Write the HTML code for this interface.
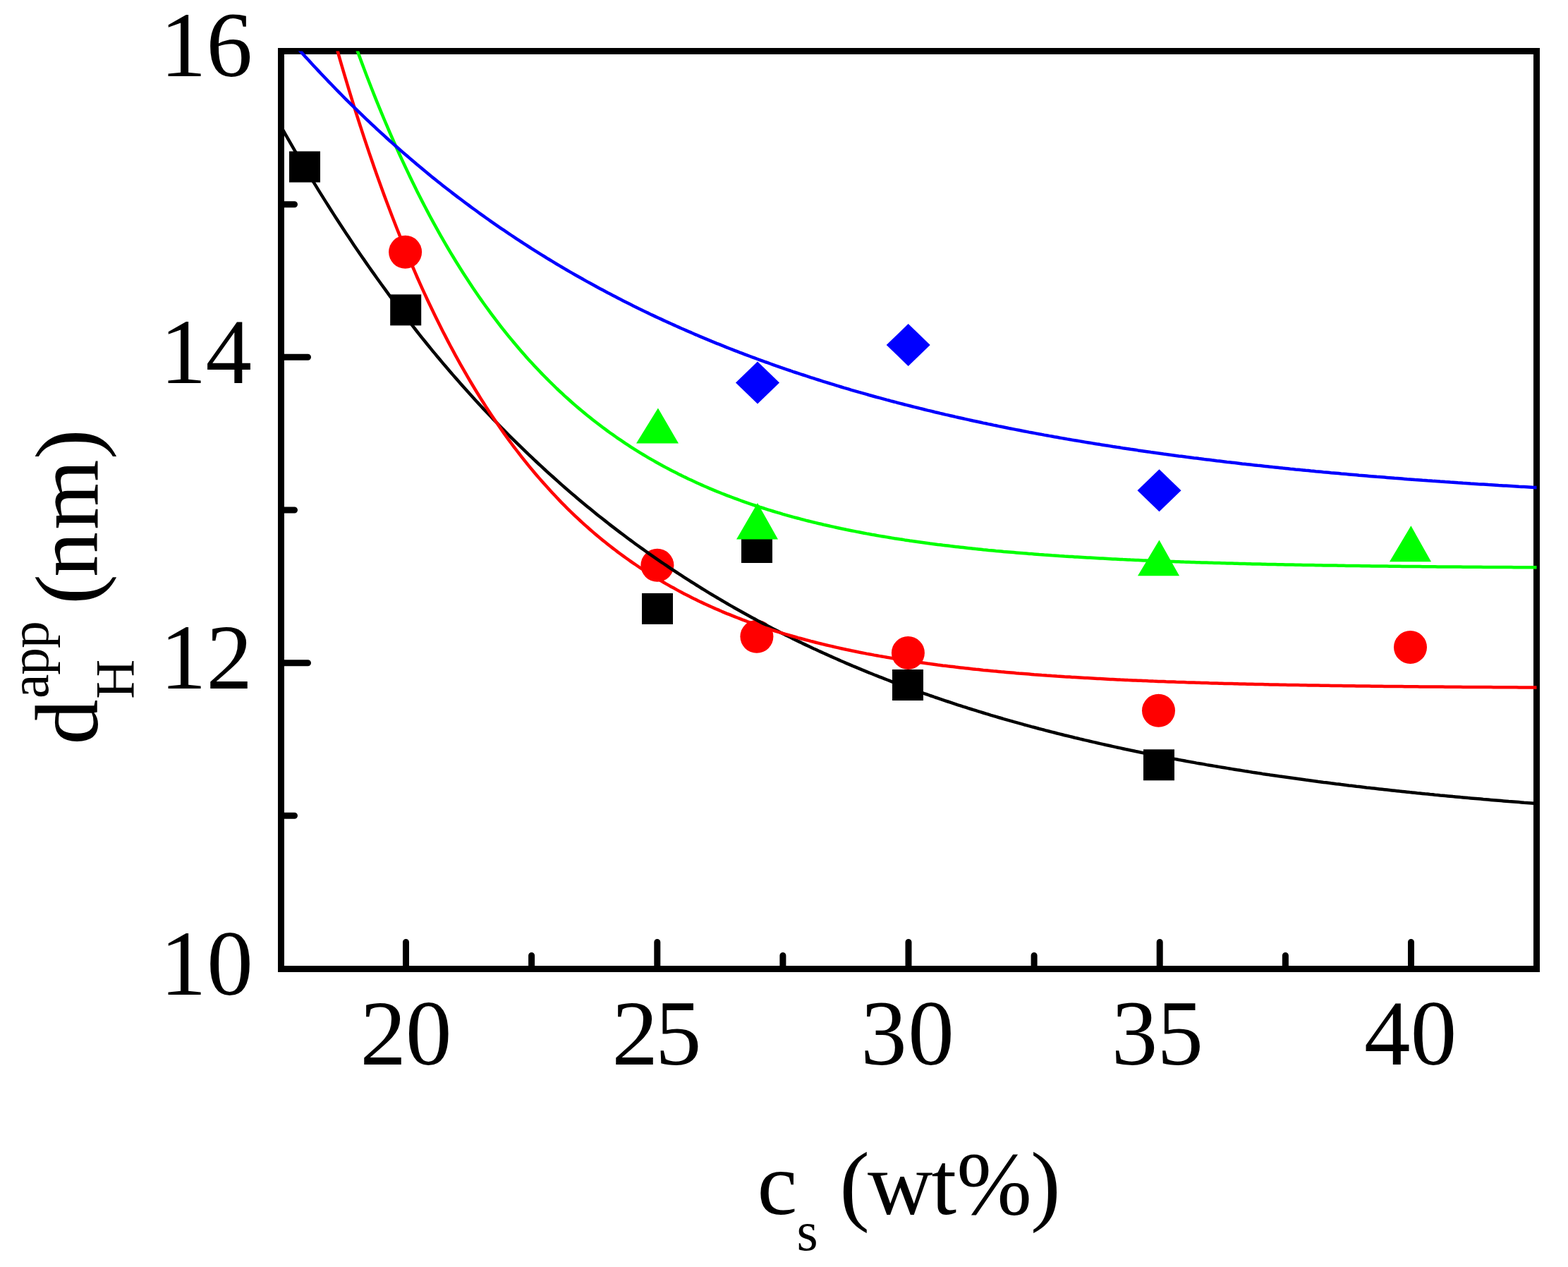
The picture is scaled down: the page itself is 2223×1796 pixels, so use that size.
<!DOCTYPE html><html><head><meta charset="utf-8"><title>d_H^app vs c_s</title><style>html,body{margin:0;padding:0;background:#fff;overflow:hidden;}svg{display:block;}</style></head><body>
<svg width="2223" height="1796" viewBox="0 0 2223 1796">
<rect x="0" y="0" width="2223" height="1796" fill="#fff"/>
<defs><clipPath id="pa"><rect x="398.5" y="72.5" width="1780.0" height="1301.0"/></clipPath></defs>
<path d="M575.5 1373.5V1335.5M931.8 1373.5V1335.5M1288.0 1373.5V1335.5M1644.2 1373.5V1335.5M2000.5 1373.5V1335.5M753.6 1373.5V1354.5M1109.9 1373.5V1354.5M1466.1 1373.5V1354.5M1822.4 1373.5V1354.5M398.5 506.3H436.5M398.5 939.7H436.5M398.5 289.7H417.5M398.5 723.0H417.5M398.5 1156.3H417.5" stroke="#000" stroke-width="9" stroke-linecap="round" fill="none"/>
<rect x="398.5" y="72.5" width="1780.0" height="1301.0" fill="none" stroke="#000" stroke-width="9"/>
<rect x="410.0" y="214.5" width="44" height="44" fill="#000"/><rect x="553.2" y="417.4" width="44" height="44" fill="#000"/><rect x="910.0" y="840.9" width="44" height="44" fill="#000"/><rect x="1051.0" y="754.0" width="44" height="44" fill="#000"/><rect x="1265.0" y="949.0" width="44" height="44" fill="#000"/><rect x="1621.0" y="1062.3" width="44" height="44" fill="#000"/><circle cx="574.6" cy="357.3" r="23.5" fill="#f00"/><circle cx="931.9" cy="801.3" r="23.5" fill="#f00"/><circle cx="1072.9" cy="902.3" r="23.5" fill="#f00"/><circle cx="1287.4" cy="925.5" r="23.5" fill="#f00"/><circle cx="1642.5" cy="1007.3" r="23.5" fill="#f00"/><circle cx="1999.5" cy="917.5" r="23.5" fill="#f00"/><polygon points="932.9,578.5 962,628.6 902,628.6" fill="#0f0"/><polygon points="1074,713 1103,764.6 1044,764.6" fill="#0f0"/><polygon points="1643.5,765.6 1672,816.3 1613,816.3" fill="#0f0"/><polygon points="2000.4,745.3 2029,796.3 1970,796.3" fill="#0f0"/><polygon points="1074,512.5 1105.0,542.5 1074,572.5 1043.0,542.5" fill="#00f"/><polygon points="1287.7,459.0 1318.7,489 1287.7,519.0 1256.7,489" fill="#00f"/><polygon points="1643.5,665.2 1674.5,695.2 1643.5,725.2 1612.5,695.2" fill="#00f"/>
<g clip-path="url(#pa)" fill="none" stroke-width="4.5" stroke-linejoin="round" stroke-linecap="round">
<polyline points="390.2,164.6 393.8,171.1 397.4,177.5 401.0,183.9 404.6,190.3 408.2,196.6 411.8,202.9 415.4,209.1 419.0,215.3 422.6,221.4 426.2,227.6 429.8,233.6 433.4,239.7 437.0,245.7 440.6,251.6 444.2,257.6 447.8,263.4 451.4,269.3 455.0,275.1 458.6,280.9 462.2,286.6 465.8,292.3 469.4,298.0 473.0,303.6 476.6,309.2 480.2,314.8 483.8,320.3 487.4,325.8 491.0,331.2 494.6,336.6 498.2,342.0 501.8,347.4 505.4,352.7 509.0,358.0 512.6,363.2 516.2,368.4 519.8,373.6 523.4,378.7 527.0,383.9 530.6,388.9 534.2,394.0 537.8,399.0 541.4,404.0 545.0,408.9 548.6,413.9 552.2,418.8 555.8,423.6 559.4,428.4 563.0,433.2 566.6,438.0 570.2,442.7 573.8,447.5 577.4,452.1 581.0,456.8 584.6,461.4 588.2,466.0 591.7,470.5 595.3,475.1 598.9,479.6 602.5,484.0 606.1,488.5 609.7,492.9 613.3,497.3 616.9,501.6 620.5,506.0 624.1,510.3 627.7,514.6 631.3,518.8 634.9,523.0 638.5,527.2 642.1,531.4 645.7,535.5 649.3,539.6 652.9,543.7 656.5,547.8 660.1,551.8 663.7,555.8 667.3,559.8 670.9,563.8 674.5,567.7 678.1,571.6 681.7,575.5 685.3,579.4 688.9,583.2 692.5,587.0 696.1,590.8 699.7,594.6 703.3,598.3 706.9,602.0 710.5,605.7 714.1,609.4 717.7,613.0 721.3,616.7 724.9,620.3 728.5,623.8 732.1,627.4 735.7,630.9 739.3,634.4 742.9,637.9 746.5,641.4 750.1,644.8 753.7,648.2 757.3,651.6 760.9,655.0 764.5,658.4 768.1,661.7 771.7,665.0 775.3,668.3 778.9,671.6 782.5,674.8 786.1,678.0 789.6,681.2 793.2,684.4 796.8,687.6 800.4,690.7 804.0,693.9 807.6,697.0 811.2,700.1 814.8,703.1 818.4,706.2 822.0,709.2 825.6,712.2 829.2,715.2 832.8,718.2 836.4,721.1 840.0,724.1 843.6,727.0 847.2,729.9 850.8,732.7 854.4,735.6 858.0,738.4 861.6,741.3 865.2,744.1 868.8,746.9 872.4,749.6 876.0,752.4 879.6,755.1 883.2,757.8 886.8,760.5 890.4,763.2 894.0,765.9 897.6,768.5 901.2,771.2 904.8,773.8 908.4,776.4 912.0,778.9 915.6,781.5 919.2,784.1 922.8,786.6 926.4,789.1 930.0,791.6 933.6,794.1 937.2,796.6 940.8,799.0 944.4,801.4 948.0,803.9 951.6,806.3 955.2,808.7 958.8,811.0 962.4,813.4 966.0,815.7 969.6,818.1 973.2,820.4 976.8,822.7 980.4,825.0 984.0,827.2 987.6,829.5 991.1,831.7 994.7,834.0 998.3,836.2 1001.9,838.4 1005.5,840.6 1009.1,842.7 1012.7,844.9 1016.3,847.0 1019.9,849.2 1023.5,851.3 1027.1,853.4 1030.7,855.5 1034.3,857.6 1037.9,859.6 1041.5,861.7 1045.1,863.7 1048.7,865.7 1052.3,867.8 1055.9,869.8 1059.5,871.7 1063.1,873.7 1066.7,875.7 1070.3,877.6 1073.9,879.6 1077.5,881.5 1081.1,883.4 1084.7,885.3 1088.3,887.2 1091.9,889.1 1095.5,890.9 1099.1,892.8 1102.7,894.6 1106.3,896.4 1109.9,898.2 1113.5,900.1 1117.1,901.8 1120.7,903.6 1124.3,905.4 1127.9,907.2 1131.5,908.9 1135.1,910.6 1138.7,912.4 1142.3,914.1 1145.9,915.8 1149.5,917.5 1153.1,919.2 1156.7,920.8 1160.3,922.5 1163.9,924.1 1167.5,925.8 1171.1,927.4 1174.7,929.0 1178.3,930.6 1181.9,932.2 1185.5,933.8 1189.0,935.4 1192.6,937.0 1196.2,938.5 1199.8,940.1 1203.4,941.6 1207.0,943.1 1210.6,944.7 1214.2,946.2 1217.8,947.7 1221.4,949.2 1225.0,950.6 1228.6,952.1 1232.2,953.6 1235.8,955.0 1239.4,956.5 1243.0,957.9 1246.6,959.3 1250.2,960.7 1253.8,962.1 1257.4,963.5 1261.0,964.9 1264.6,966.3 1268.2,967.7 1271.8,969.0 1275.4,970.4 1279.0,971.7 1282.6,973.1 1286.2,974.4 1289.8,975.7 1293.4,977.0 1297.0,978.3 1300.6,979.6 1304.2,980.9 1307.8,982.2 1311.4,983.5 1315.0,984.7 1318.6,986.0 1322.2,987.2 1325.8,988.5 1329.4,989.7 1333.0,990.9 1336.6,992.1 1340.2,993.3 1343.8,994.5 1347.4,995.7 1351.0,996.9 1354.6,998.1 1358.2,999.3 1361.8,1000.4 1365.4,1001.6 1369.0,1002.7 1372.6,1003.9 1376.2,1005.0 1379.8,1006.1 1383.4,1007.2 1387.0,1008.3 1390.5,1009.4 1394.1,1010.5 1397.7,1011.6 1401.3,1012.7 1404.9,1013.8 1408.5,1014.8 1412.1,1015.9 1415.7,1017.0 1419.3,1018.0 1422.9,1019.1 1426.5,1020.1 1430.1,1021.1 1433.7,1022.1 1437.3,1023.2 1440.9,1024.2 1444.5,1025.2 1448.1,1026.2 1451.7,1027.2 1455.3,1028.1 1458.9,1029.1 1462.5,1030.1 1466.1,1031.0 1469.7,1032.0 1473.3,1033.0 1476.9,1033.9 1480.5,1034.8 1484.1,1035.8 1487.7,1036.7 1491.3,1037.6 1494.9,1038.5 1498.5,1039.5 1502.1,1040.4 1505.7,1041.3 1509.3,1042.2 1512.9,1043.0 1516.5,1043.9 1520.1,1044.8 1523.7,1045.7 1527.3,1046.5 1530.9,1047.4 1534.5,1048.2 1538.1,1049.1 1541.7,1049.9 1545.3,1050.8 1548.9,1051.6 1552.5,1052.4 1556.1,1053.3 1559.7,1054.1 1563.3,1054.9 1566.9,1055.7 1570.5,1056.5 1574.1,1057.3 1577.7,1058.1 1581.3,1058.9 1584.9,1059.7 1588.4,1060.4 1592.0,1061.2 1595.6,1062.0 1599.2,1062.7 1602.8,1063.5 1606.4,1064.2 1610.0,1065.0 1613.6,1065.7 1617.2,1066.5 1620.8,1067.2 1624.4,1067.9 1628.0,1068.6 1631.6,1069.4 1635.2,1070.1 1638.8,1070.8 1642.4,1071.5 1646.0,1072.2 1649.6,1072.9 1653.2,1073.6 1656.8,1074.3 1660.4,1075.0 1664.0,1075.6 1667.6,1076.3 1671.2,1077.0 1674.8,1077.6 1678.4,1078.3 1682.0,1079.0 1685.6,1079.6 1689.2,1080.3 1692.8,1080.9 1696.4,1081.6 1700.0,1082.2 1703.6,1082.8 1707.2,1083.4 1710.8,1084.1 1714.4,1084.7 1718.0,1085.3 1721.6,1085.9 1725.2,1086.5 1728.8,1087.1 1732.4,1087.7 1736.0,1088.3 1739.6,1088.9 1743.2,1089.5 1746.8,1090.1 1750.4,1090.7 1754.0,1091.3 1757.6,1091.8 1761.2,1092.4 1764.8,1093.0 1768.4,1093.5 1772.0,1094.1 1775.6,1094.7 1779.2,1095.2 1782.8,1095.8 1786.4,1096.3 1789.9,1096.9 1793.5,1097.4 1797.1,1097.9 1800.7,1098.5 1804.3,1099.0 1807.9,1099.5 1811.5,1100.0 1815.1,1100.6 1818.7,1101.1 1822.3,1101.6 1825.9,1102.1 1829.5,1102.6 1833.1,1103.1 1836.7,1103.6 1840.3,1104.1 1843.9,1104.6 1847.5,1105.1 1851.1,1105.6 1854.7,1106.0 1858.3,1106.5 1861.9,1107.0 1865.5,1107.5 1869.1,1108.0 1872.7,1108.4 1876.3,1108.9 1879.9,1109.3 1883.5,1109.8 1887.1,1110.3 1890.7,1110.7 1894.3,1111.2 1897.9,1111.6 1901.5,1112.1 1905.1,1112.5 1908.7,1112.9 1912.3,1113.4 1915.9,1113.8 1919.5,1114.2 1923.1,1114.7 1926.7,1115.1 1930.3,1115.5 1933.9,1115.9 1937.5,1116.4 1941.1,1116.8 1944.7,1117.2 1948.3,1117.6 1951.9,1118.0 1955.5,1118.4 1959.1,1118.8 1962.7,1119.2 1966.3,1119.6 1969.9,1120.0 1973.5,1120.4 1977.1,1120.8 1980.7,1121.2 1984.3,1121.6 1987.8,1121.9 1991.4,1122.3 1995.0,1122.7 1998.6,1123.1 2002.2,1123.4 2005.8,1123.8 2009.4,1124.2 2013.0,1124.5 2016.6,1124.9 2020.2,1125.3 2023.8,1125.6 2027.4,1126.0 2031.0,1126.3 2034.6,1126.7 2038.2,1127.0 2041.8,1127.4 2045.4,1127.7 2049.0,1128.1 2052.6,1128.4 2056.2,1128.7 2059.8,1129.1 2063.4,1129.4 2067.0,1129.7 2070.6,1130.1 2074.2,1130.4 2077.8,1130.7 2081.4,1131.1 2085.0,1131.4 2088.6,1131.7 2092.2,1132.0 2095.8,1132.3 2099.4,1132.6 2103.0,1133.0 2106.6,1133.3 2110.2,1133.6 2113.8,1133.9 2117.4,1134.2 2121.0,1134.5 2124.6,1134.8 2128.2,1135.1 2131.8,1135.4 2135.4,1135.7 2139.0,1136.0 2142.6,1136.2 2146.2,1136.5 2149.8,1136.8 2153.4,1137.1 2157.0,1137.4 2160.6,1137.7 2164.2,1137.9 2167.8,1138.2 2171.4,1138.5 2175.0,1138.8 2178.6,1139.0 2182.2,1139.3 2185.8,1139.6" stroke="#000000"/>
<polyline points="458.6,-0.4 462.2,13.2 465.8,26.5 469.4,39.7 473.0,52.7 476.6,65.5 480.2,78.1 483.8,90.6 487.4,102.8 491.0,114.9 494.6,126.9 498.2,138.6 501.8,150.3 505.4,161.7 509.0,173.0 512.6,184.1 516.2,195.1 519.8,205.9 523.4,216.6 527.0,227.1 530.6,237.5 534.2,247.7 537.8,257.8 541.4,267.8 545.0,277.6 548.6,287.3 552.2,296.8 555.8,306.3 559.4,315.5 563.0,324.7 566.6,333.7 570.2,342.6 573.8,351.4 577.4,360.1 581.0,368.6 584.6,377.0 588.2,385.3 591.7,393.5 595.3,401.6 598.9,409.6 602.5,417.4 606.1,425.2 609.7,432.8 613.3,440.3 616.9,447.7 620.5,455.1 624.1,462.3 627.7,469.4 631.3,476.4 634.9,483.4 638.5,490.2 642.1,496.9 645.7,503.6 649.3,510.1 652.9,516.6 656.5,522.9 660.1,529.2 663.7,535.4 667.3,541.5 670.9,547.5 674.5,553.5 678.1,559.3 681.7,565.1 685.3,570.8 688.9,576.4 692.5,581.9 696.1,587.4 699.7,592.8 703.3,598.1 706.9,603.3 710.5,608.5 714.1,613.6 717.7,618.6 721.3,623.6 724.9,628.5 728.5,633.3 732.1,638.0 735.7,642.7 739.3,647.3 742.9,651.9 746.5,656.4 750.1,660.8 753.7,665.2 757.3,669.5 760.9,673.7 764.5,677.9 768.1,682.0 771.7,686.1 775.3,690.1 778.9,694.1 782.5,698.0 786.1,701.8 789.6,705.6 793.2,709.4 796.8,713.1 800.4,716.7 804.0,720.3 807.6,723.9 811.2,727.3 814.8,730.8 818.4,734.2 822.0,737.5 825.6,740.8 829.2,744.1 832.8,747.3 836.4,750.5 840.0,753.6 843.6,756.7 847.2,759.7 850.8,762.7 854.4,765.7 858.0,768.6 861.6,771.5 865.2,774.3 868.8,777.1 872.4,779.8 876.0,782.6 879.6,785.2 883.2,787.9 886.8,790.5 890.4,793.0 894.0,795.6 897.6,798.1 901.2,800.5 904.8,803.0 908.4,805.4 912.0,807.7 915.6,810.1 919.2,812.4 922.8,814.6 926.4,816.9 930.0,819.1 933.6,821.2 937.2,823.4 940.8,825.5 944.4,827.6 948.0,829.6 951.6,831.7 955.2,833.6 958.8,835.6 962.4,837.6 966.0,839.5 969.6,841.4 973.2,843.2 976.8,845.1 980.4,846.9 984.0,848.7 987.6,850.4 991.1,852.2 994.7,853.9 998.3,855.6 1001.9,857.2 1005.5,858.9 1009.1,860.5 1012.7,862.1 1016.3,863.7 1019.9,865.2 1023.5,866.8 1027.1,868.3 1030.7,869.8 1034.3,871.2 1037.9,872.7 1041.5,874.1 1045.1,875.5 1048.7,876.9 1052.3,878.3 1055.9,879.6 1059.5,881.0 1063.1,882.3 1066.7,883.6 1070.3,884.8 1073.9,886.1 1077.5,887.4 1081.1,888.6 1084.7,889.8 1088.3,891.0 1091.9,892.2 1095.5,893.3 1099.1,894.5 1102.7,895.6 1106.3,896.7 1109.9,897.8 1113.5,898.9 1117.1,899.9 1120.7,901.0 1124.3,902.0 1127.9,903.0 1131.5,904.1 1135.1,905.0 1138.7,906.0 1142.3,907.0 1145.9,907.9 1149.5,908.9 1153.1,909.8 1156.7,910.7 1160.3,911.6 1163.9,912.5 1167.5,913.4 1171.1,914.3 1174.7,915.1 1178.3,915.9 1181.9,916.8 1185.5,917.6 1189.0,918.4 1192.6,919.2 1196.2,920.0 1199.8,920.8 1203.4,921.5 1207.0,922.3 1210.6,923.0 1214.2,923.7 1217.8,924.5 1221.4,925.2 1225.0,925.9 1228.6,926.6 1232.2,927.2 1235.8,927.9 1239.4,928.6 1243.0,929.2 1246.6,929.9 1250.2,930.5 1253.8,931.1 1257.4,931.8 1261.0,932.4 1264.6,933.0 1268.2,933.6 1271.8,934.1 1275.4,934.7 1279.0,935.3 1282.6,935.9 1286.2,936.4 1289.8,937.0 1293.4,937.5 1297.0,938.0 1300.6,938.5 1304.2,939.1 1307.8,939.6 1311.4,940.1 1315.0,940.6 1318.6,941.0 1322.2,941.5 1325.8,942.0 1329.4,942.5 1333.0,942.9 1336.6,943.4 1340.2,943.8 1343.8,944.3 1347.4,944.7 1351.0,945.1 1354.6,945.6 1358.2,946.0 1361.8,946.4 1365.4,946.8 1369.0,947.2 1372.6,947.6 1376.2,948.0 1379.8,948.4 1383.4,948.8 1387.0,949.1 1390.5,949.5 1394.1,949.9 1397.7,950.2 1401.3,950.6 1404.9,950.9 1408.5,951.3 1412.1,951.6 1415.7,951.9 1419.3,952.3 1422.9,952.6 1426.5,952.9 1430.1,953.2 1433.7,953.5 1437.3,953.8 1440.9,954.2 1444.5,954.5 1448.1,954.7 1451.7,955.0 1455.3,955.3 1458.9,955.6 1462.5,955.9 1466.1,956.2 1469.7,956.4 1473.3,956.7 1476.9,957.0 1480.5,957.2 1484.1,957.5 1487.7,957.7 1491.3,958.0 1494.9,958.2 1498.5,958.5 1502.1,958.7 1505.7,958.9 1509.3,959.2 1512.9,959.4 1516.5,959.6 1520.1,959.9 1523.7,960.1 1527.3,960.3 1530.9,960.5 1534.5,960.7 1538.1,960.9 1541.7,961.1 1545.3,961.3 1548.9,961.5 1552.5,961.7 1556.1,961.9 1559.7,962.1 1563.3,962.3 1566.9,962.5 1570.5,962.7 1574.1,962.9 1577.7,963.0 1581.3,963.2 1584.9,963.4 1588.4,963.6 1592.0,963.7 1595.6,963.9 1599.2,964.1 1602.8,964.2 1606.4,964.4 1610.0,964.5 1613.6,964.7 1617.2,964.8 1620.8,965.0 1624.4,965.1 1628.0,965.3 1631.6,965.4 1635.2,965.6 1638.8,965.7 1642.4,965.9 1646.0,966.0 1649.6,966.1 1653.2,966.3 1656.8,966.4 1660.4,966.5 1664.0,966.6 1667.6,966.8 1671.2,966.9 1674.8,967.0 1678.4,967.1 1682.0,967.3 1685.6,967.4 1689.2,967.5 1692.8,967.6 1696.4,967.7 1700.0,967.8 1703.6,967.9 1707.2,968.0 1710.8,968.1 1714.4,968.3 1718.0,968.4 1721.6,968.5 1725.2,968.6 1728.8,968.7 1732.4,968.8 1736.0,968.9 1739.6,968.9 1743.2,969.0 1746.8,969.1 1750.4,969.2 1754.0,969.3 1757.6,969.4 1761.2,969.5 1764.8,969.6 1768.4,969.7 1772.0,969.7 1775.6,969.8 1779.2,969.9 1782.8,970.0 1786.4,970.1 1789.9,970.1 1793.5,970.2 1797.1,970.3 1800.7,970.4 1804.3,970.5 1807.9,970.5 1811.5,970.6 1815.1,970.7 1818.7,970.7 1822.3,970.8 1825.9,970.9 1829.5,970.9 1833.1,971.0 1836.7,971.1 1840.3,971.1 1843.9,971.2 1847.5,971.3 1851.1,971.3 1854.7,971.4 1858.3,971.4 1861.9,971.5 1865.5,971.6 1869.1,971.6 1872.7,971.7 1876.3,971.7 1879.9,971.8 1883.5,971.8 1887.1,971.9 1890.7,972.0 1894.3,972.0 1897.9,972.1 1901.5,972.1 1905.1,972.2 1908.7,972.2 1912.3,972.3 1915.9,972.3 1919.5,972.3 1923.1,972.4 1926.7,972.4 1930.3,972.5 1933.9,972.5 1937.5,972.6 1941.1,972.6 1944.7,972.7 1948.3,972.7 1951.9,972.7 1955.5,972.8 1959.1,972.8 1962.7,972.9 1966.3,972.9 1969.9,972.9 1973.5,973.0 1977.1,973.0 1980.7,973.1 1984.3,973.1 1987.8,973.1 1991.4,973.2 1995.0,973.2 1998.6,973.2 2002.2,973.3 2005.8,973.3 2009.4,973.3 2013.0,973.4 2016.6,973.4 2020.2,973.4 2023.8,973.5 2027.4,973.5 2031.0,973.5 2034.6,973.6 2038.2,973.6 2041.8,973.6 2045.4,973.6 2049.0,973.7 2052.6,973.7 2056.2,973.7 2059.8,973.8 2063.4,973.8 2067.0,973.8 2070.6,973.8 2074.2,973.9 2077.8,973.9 2081.4,973.9 2085.0,973.9 2088.6,974.0 2092.2,974.0 2095.8,974.0 2099.4,974.0 2103.0,974.1 2106.6,974.1 2110.2,974.1 2113.8,974.1 2117.4,974.2 2121.0,974.2 2124.6,974.2 2128.2,974.2 2131.8,974.2 2135.4,974.3 2139.0,974.3 2142.6,974.3 2146.2,974.3 2149.8,974.3 2153.4,974.4 2157.0,974.4 2160.6,974.4 2164.2,974.4 2167.8,974.4 2171.4,974.4 2175.0,974.5 2178.6,974.5 2182.2,974.5 2185.8,974.5" stroke="#ff0000"/>
<polyline points="480.2,-4.2 483.8,6.6 487.4,17.3 491.0,27.8 494.6,38.2 498.2,48.5 501.8,58.6 505.4,68.6 509.0,78.4 512.6,88.1 516.2,97.7 519.8,107.2 523.4,116.5 527.0,125.7 530.6,134.8 534.2,143.8 537.8,152.6 541.4,161.3 545.0,170.0 548.6,178.4 552.2,186.8 555.8,195.1 559.4,203.3 563.0,211.3 566.6,219.2 570.2,227.1 573.8,234.8 577.4,242.4 581.0,250.0 584.6,257.4 588.2,264.7 591.7,271.9 595.3,279.1 598.9,286.1 602.5,293.0 606.1,299.9 609.7,306.7 613.3,313.3 616.9,319.9 620.5,326.4 624.1,332.8 627.7,339.1 631.3,345.3 634.9,351.5 638.5,357.6 642.1,363.5 645.7,369.5 649.3,375.3 652.9,381.0 656.5,386.7 660.1,392.3 663.7,397.8 667.3,403.3 670.9,408.7 674.5,414.0 678.1,419.2 681.7,424.4 685.3,429.5 688.9,434.5 692.5,439.4 696.1,444.3 699.7,449.2 703.3,453.9 706.9,458.6 710.5,463.3 714.1,467.8 717.7,472.4 721.3,476.8 724.9,481.2 728.5,485.5 732.1,489.8 735.7,494.0 739.3,498.2 742.9,502.3 746.5,506.4 750.1,510.4 753.7,514.3 757.3,518.2 760.9,522.0 764.5,525.8 768.1,529.6 771.7,533.3 775.3,536.9 778.9,540.5 782.5,544.0 786.1,547.5 789.6,551.0 793.2,554.4 796.8,557.7 800.4,561.1 804.0,564.3 807.6,567.5 811.2,570.7 814.8,573.9 818.4,577.0 822.0,580.0 825.6,583.0 829.2,586.0 832.8,588.9 836.4,591.8 840.0,594.7 843.6,597.5 847.2,600.3 850.8,603.0 854.4,605.8 858.0,608.4 861.6,611.1 865.2,613.7 868.8,616.2 872.4,618.8 876.0,621.3 879.6,623.7 883.2,626.2 886.8,628.6 890.4,630.9 894.0,633.3 897.6,635.6 901.2,637.8 904.8,640.1 908.4,642.3 912.0,644.5 915.6,646.6 919.2,648.8 922.8,650.9 926.4,652.9 930.0,655.0 933.6,657.0 937.2,659.0 940.8,660.9 944.4,662.9 948.0,664.8 951.6,666.7 955.2,668.5 958.8,670.3 962.4,672.2 966.0,673.9 969.6,675.7 973.2,677.4 976.8,679.2 980.4,680.8 984.0,682.5 987.6,684.2 991.1,685.8 994.7,687.4 998.3,689.0 1001.9,690.5 1005.5,692.1 1009.1,693.6 1012.7,695.1 1016.3,696.6 1019.9,698.0 1023.5,699.5 1027.1,700.9 1030.7,702.3 1034.3,703.7 1037.9,705.0 1041.5,706.4 1045.1,707.7 1048.7,709.0 1052.3,710.3 1055.9,711.6 1059.5,712.8 1063.1,714.1 1066.7,715.3 1070.3,716.5 1073.9,717.7 1077.5,718.9 1081.1,720.0 1084.7,721.2 1088.3,722.3 1091.9,723.4 1095.5,724.5 1099.1,725.6 1102.7,726.7 1106.3,727.7 1109.9,728.8 1113.5,729.8 1117.1,730.8 1120.7,731.8 1124.3,732.8 1127.9,733.8 1131.5,734.7 1135.1,735.7 1138.7,736.6 1142.3,737.6 1145.9,738.5 1149.5,739.4 1153.1,740.3 1156.7,741.1 1160.3,742.0 1163.9,742.8 1167.5,743.7 1171.1,744.5 1174.7,745.3 1178.3,746.1 1181.9,746.9 1185.5,747.7 1189.0,748.5 1192.6,749.3 1196.2,750.0 1199.8,750.8 1203.4,751.5 1207.0,752.2 1210.6,752.9 1214.2,753.6 1217.8,754.3 1221.4,755.0 1225.0,755.7 1228.6,756.4 1232.2,757.0 1235.8,757.7 1239.4,758.3 1243.0,759.0 1246.6,759.6 1250.2,760.2 1253.8,760.8 1257.4,761.4 1261.0,762.0 1264.6,762.6 1268.2,763.2 1271.8,763.7 1275.4,764.3 1279.0,764.8 1282.6,765.4 1286.2,765.9 1289.8,766.5 1293.4,767.0 1297.0,767.5 1300.6,768.0 1304.2,768.5 1307.8,769.0 1311.4,769.5 1315.0,770.0 1318.6,770.5 1322.2,770.9 1325.8,771.4 1329.4,771.9 1333.0,772.3 1336.6,772.8 1340.2,773.2 1343.8,773.6 1347.4,774.1 1351.0,774.5 1354.6,774.9 1358.2,775.3 1361.8,775.7 1365.4,776.1 1369.0,776.5 1372.6,776.9 1376.2,777.3 1379.8,777.7 1383.4,778.1 1387.0,778.4 1390.5,778.8 1394.1,779.2 1397.7,779.5 1401.3,779.9 1404.9,780.2 1408.5,780.5 1412.1,780.9 1415.7,781.2 1419.3,781.5 1422.9,781.9 1426.5,782.2 1430.1,782.5 1433.7,782.8 1437.3,783.1 1440.9,783.4 1444.5,783.7 1448.1,784.0 1451.7,784.3 1455.3,784.6 1458.9,784.9 1462.5,785.1 1466.1,785.4 1469.7,785.7 1473.3,786.0 1476.9,786.2 1480.5,786.5 1484.1,786.7 1487.7,787.0 1491.3,787.3 1494.9,787.5 1498.5,787.7 1502.1,788.0 1505.7,788.2 1509.3,788.5 1512.9,788.7 1516.5,788.9 1520.1,789.1 1523.7,789.4 1527.3,789.6 1530.9,789.8 1534.5,790.0 1538.1,790.2 1541.7,790.4 1545.3,790.6 1548.9,790.8 1552.5,791.0 1556.1,791.2 1559.7,791.4 1563.3,791.6 1566.9,791.8 1570.5,792.0 1574.1,792.2 1577.7,792.4 1581.3,792.5 1584.9,792.7 1588.4,792.9 1592.0,793.1 1595.6,793.2 1599.2,793.4 1602.8,793.6 1606.4,793.7 1610.0,793.9 1613.6,794.0 1617.2,794.2 1620.8,794.4 1624.4,794.5 1628.0,794.7 1631.6,794.8 1635.2,794.9 1638.8,795.1 1642.4,795.2 1646.0,795.4 1649.6,795.5 1653.2,795.7 1656.8,795.8 1660.4,795.9 1664.0,796.0 1667.6,796.2 1671.2,796.3 1674.8,796.4 1678.4,796.6 1682.0,796.7 1685.6,796.8 1689.2,796.9 1692.8,797.0 1696.4,797.2 1700.0,797.3 1703.6,797.4 1707.2,797.5 1710.8,797.6 1714.4,797.7 1718.0,797.8 1721.6,797.9 1725.2,798.0 1728.8,798.1 1732.4,798.2 1736.0,798.3 1739.6,798.4 1743.2,798.5 1746.8,798.6 1750.4,798.7 1754.0,798.8 1757.6,798.9 1761.2,799.0 1764.8,799.1 1768.4,799.2 1772.0,799.3 1775.6,799.4 1779.2,799.4 1782.8,799.5 1786.4,799.6 1789.9,799.7 1793.5,799.8 1797.1,799.9 1800.7,799.9 1804.3,800.0 1807.9,800.1 1811.5,800.2 1815.1,800.2 1818.7,800.3 1822.3,800.4 1825.9,800.5 1829.5,800.5 1833.1,800.6 1836.7,800.7 1840.3,800.7 1843.9,800.8 1847.5,800.9 1851.1,800.9 1854.7,801.0 1858.3,801.1 1861.9,801.1 1865.5,801.2 1869.1,801.2 1872.7,801.3 1876.3,801.4 1879.9,801.4 1883.5,801.5 1887.1,801.5 1890.7,801.6 1894.3,801.6 1897.9,801.7 1901.5,801.8 1905.1,801.8 1908.7,801.9 1912.3,801.9 1915.9,802.0 1919.5,802.0 1923.1,802.1 1926.7,802.1 1930.3,802.2 1933.9,802.2 1937.5,802.3 1941.1,802.3 1944.7,802.4 1948.3,802.4 1951.9,802.4 1955.5,802.5 1959.1,802.5 1962.7,802.6 1966.3,802.6 1969.9,802.7 1973.5,802.7 1977.1,802.7 1980.7,802.8 1984.3,802.8 1987.8,802.9 1991.4,802.9 1995.0,802.9 1998.6,803.0 2002.2,803.0 2005.8,803.0 2009.4,803.1 2013.0,803.1 2016.6,803.2 2020.2,803.2 2023.8,803.2 2027.4,803.3 2031.0,803.3 2034.6,803.3 2038.2,803.4 2041.8,803.4 2045.4,803.4 2049.0,803.5 2052.6,803.5 2056.2,803.5 2059.8,803.5 2063.4,803.6 2067.0,803.6 2070.6,803.6 2074.2,803.7 2077.8,803.7 2081.4,803.7 2085.0,803.7 2088.6,803.8 2092.2,803.8 2095.8,803.8 2099.4,803.8 2103.0,803.9 2106.6,803.9 2110.2,803.9 2113.8,803.9 2117.4,804.0 2121.0,804.0 2124.6,804.0 2128.2,804.0 2131.8,804.1 2135.4,804.1 2139.0,804.1 2142.6,804.1 2146.2,804.2 2149.8,804.2 2153.4,804.2 2157.0,804.2 2160.6,804.2 2164.2,804.3 2167.8,804.3 2171.4,804.3 2175.0,804.3 2178.6,804.3 2182.2,804.4 2185.8,804.4" stroke="#00ff00"/>
<polyline points="390.2,31.5 393.8,35.8 397.4,40.0 401.0,44.2 404.6,48.4 408.2,52.5 411.8,56.7 415.4,60.8 419.0,64.8 422.6,68.9 426.2,72.9 429.8,76.9 433.4,80.9 437.0,84.8 440.6,88.8 444.2,92.7 447.8,96.5 451.4,100.4 455.0,104.2 458.6,108.0 462.2,111.8 465.8,115.6 469.4,119.3 473.0,123.0 476.6,126.7 480.2,130.4 483.8,134.0 487.4,137.7 491.0,141.3 494.6,144.8 498.2,148.4 501.8,151.9 505.4,155.4 509.0,158.9 512.6,162.4 516.2,165.8 519.8,169.3 523.4,172.7 527.0,176.1 530.6,179.4 534.2,182.8 537.8,186.1 541.4,189.4 545.0,192.7 548.6,196.0 552.2,199.2 555.8,202.4 559.4,205.6 563.0,208.8 566.6,212.0 570.2,215.1 573.8,218.2 577.4,221.3 581.0,224.4 584.6,227.5 588.2,230.5 591.7,233.6 595.3,236.6 598.9,239.6 602.5,242.6 606.1,245.5 609.7,248.4 613.3,251.4 616.9,254.3 620.5,257.2 624.1,260.0 627.7,262.9 631.3,265.7 634.9,268.5 638.5,271.3 642.1,274.1 645.7,276.9 649.3,279.6 652.9,282.3 656.5,285.0 660.1,287.7 663.7,290.4 667.3,293.1 670.9,295.7 674.5,298.3 678.1,301.0 681.7,303.6 685.3,306.1 688.9,308.7 692.5,311.3 696.1,313.8 699.7,316.3 703.3,318.8 706.9,321.3 710.5,323.8 714.1,326.2 717.7,328.7 721.3,331.1 724.9,333.5 728.5,335.9 732.1,338.3 735.7,340.7 739.3,343.0 742.9,345.3 746.5,347.7 750.1,350.0 753.7,352.3 757.3,354.6 760.9,356.8 764.5,359.1 768.1,361.3 771.7,363.5 775.3,365.8 778.9,368.0 782.5,370.1 786.1,372.3 789.6,374.5 793.2,376.6 796.8,378.7 800.4,380.9 804.0,383.0 807.6,385.1 811.2,387.1 814.8,389.2 818.4,391.3 822.0,393.3 825.6,395.3 829.2,397.4 832.8,399.4 836.4,401.3 840.0,403.3 843.6,405.3 847.2,407.3 850.8,409.2 854.4,411.1 858.0,413.0 861.6,415.0 865.2,416.8 868.8,418.7 872.4,420.6 876.0,422.5 879.6,424.3 883.2,426.2 886.8,428.0 890.4,429.8 894.0,431.6 897.6,433.4 901.2,435.2 904.8,437.0 908.4,438.7 912.0,440.5 915.6,442.2 919.2,443.9 922.8,445.7 926.4,447.4 930.0,449.1 933.6,450.7 937.2,452.4 940.8,454.1 944.4,455.7 948.0,457.4 951.6,459.0 955.2,460.6 958.8,462.3 962.4,463.9 966.0,465.5 969.6,467.0 973.2,468.6 976.8,470.2 980.4,471.7 984.0,473.3 987.6,474.8 991.1,476.4 994.7,477.9 998.3,479.4 1001.9,480.9 1005.5,482.4 1009.1,483.9 1012.7,485.3 1016.3,486.8 1019.9,488.2 1023.5,489.7 1027.1,491.1 1030.7,492.6 1034.3,494.0 1037.9,495.4 1041.5,496.8 1045.1,498.2 1048.7,499.6 1052.3,500.9 1055.9,502.3 1059.5,503.7 1063.1,505.0 1066.7,506.4 1070.3,507.7 1073.9,509.0 1077.5,510.3 1081.1,511.6 1084.7,513.0 1088.3,514.2 1091.9,515.5 1095.5,516.8 1099.1,518.1 1102.7,519.3 1106.3,520.6 1109.9,521.8 1113.5,523.1 1117.1,524.3 1120.7,525.5 1124.3,526.8 1127.9,528.0 1131.5,529.2 1135.1,530.4 1138.7,531.5 1142.3,532.7 1145.9,533.9 1149.5,535.1 1153.1,536.2 1156.7,537.4 1160.3,538.5 1163.9,539.6 1167.5,540.8 1171.1,541.9 1174.7,543.0 1178.3,544.1 1181.9,545.2 1185.5,546.3 1189.0,547.4 1192.6,548.5 1196.2,549.6 1199.8,550.6 1203.4,551.7 1207.0,552.8 1210.6,553.8 1214.2,554.8 1217.8,555.9 1221.4,556.9 1225.0,557.9 1228.6,558.9 1232.2,560.0 1235.8,561.0 1239.4,562.0 1243.0,563.0 1246.6,563.9 1250.2,564.9 1253.8,565.9 1257.4,566.9 1261.0,567.8 1264.6,568.8 1268.2,569.7 1271.8,570.7 1275.4,571.6 1279.0,572.5 1282.6,573.5 1286.2,574.4 1289.8,575.3 1293.4,576.2 1297.0,577.1 1300.6,578.0 1304.2,578.9 1307.8,579.8 1311.4,580.7 1315.0,581.6 1318.6,582.4 1322.2,583.3 1325.8,584.2 1329.4,585.0 1333.0,585.9 1336.6,586.7 1340.2,587.6 1343.8,588.4 1347.4,589.2 1351.0,590.0 1354.6,590.9 1358.2,591.7 1361.8,592.5 1365.4,593.3 1369.0,594.1 1372.6,594.9 1376.2,595.7 1379.8,596.5 1383.4,597.2 1387.0,598.0 1390.5,598.8 1394.1,599.6 1397.7,600.3 1401.3,601.1 1404.9,601.8 1408.5,602.6 1412.1,603.3 1415.7,604.1 1419.3,604.8 1422.9,605.5 1426.5,606.2 1430.1,607.0 1433.7,607.7 1437.3,608.4 1440.9,609.1 1444.5,609.8 1448.1,610.5 1451.7,611.2 1455.3,611.9 1458.9,612.6 1462.5,613.2 1466.1,613.9 1469.7,614.6 1473.3,615.3 1476.9,615.9 1480.5,616.6 1484.1,617.2 1487.7,617.9 1491.3,618.5 1494.9,619.2 1498.5,619.8 1502.1,620.5 1505.7,621.1 1509.3,621.7 1512.9,622.4 1516.5,623.0 1520.1,623.6 1523.7,624.2 1527.3,624.8 1530.9,625.4 1534.5,626.0 1538.1,626.6 1541.7,627.2 1545.3,627.8 1548.9,628.4 1552.5,629.0 1556.1,629.6 1559.7,630.1 1563.3,630.7 1566.9,631.3 1570.5,631.8 1574.1,632.4 1577.7,633.0 1581.3,633.5 1584.9,634.1 1588.4,634.6 1592.0,635.2 1595.6,635.7 1599.2,636.2 1602.8,636.8 1606.4,637.3 1610.0,637.8 1613.6,638.4 1617.2,638.9 1620.8,639.4 1624.4,639.9 1628.0,640.4 1631.6,641.0 1635.2,641.5 1638.8,642.0 1642.4,642.5 1646.0,643.0 1649.6,643.5 1653.2,643.9 1656.8,644.4 1660.4,644.9 1664.0,645.4 1667.6,645.9 1671.2,646.4 1674.8,646.8 1678.4,647.3 1682.0,647.8 1685.6,648.2 1689.2,648.7 1692.8,649.2 1696.4,649.6 1700.0,650.1 1703.6,650.5 1707.2,651.0 1710.8,651.4 1714.4,651.8 1718.0,652.3 1721.6,652.7 1725.2,653.2 1728.8,653.6 1732.4,654.0 1736.0,654.4 1739.6,654.9 1743.2,655.3 1746.8,655.7 1750.4,656.1 1754.0,656.5 1757.6,656.9 1761.2,657.4 1764.8,657.8 1768.4,658.2 1772.0,658.6 1775.6,659.0 1779.2,659.4 1782.8,659.8 1786.4,660.1 1789.9,660.5 1793.5,660.9 1797.1,661.3 1800.7,661.7 1804.3,662.1 1807.9,662.4 1811.5,662.8 1815.1,663.2 1818.7,663.6 1822.3,663.9 1825.9,664.3 1829.5,664.7 1833.1,665.0 1836.7,665.4 1840.3,665.7 1843.9,666.1 1847.5,666.4 1851.1,666.8 1854.7,667.1 1858.3,667.5 1861.9,667.8 1865.5,668.2 1869.1,668.5 1872.7,668.8 1876.3,669.2 1879.9,669.5 1883.5,669.8 1887.1,670.2 1890.7,670.5 1894.3,670.8 1897.9,671.1 1901.5,671.5 1905.1,671.8 1908.7,672.1 1912.3,672.4 1915.9,672.7 1919.5,673.0 1923.1,673.3 1926.7,673.7 1930.3,674.0 1933.9,674.3 1937.5,674.6 1941.1,674.9 1944.7,675.2 1948.3,675.5 1951.9,675.8 1955.5,676.0 1959.1,676.3 1962.7,676.6 1966.3,676.9 1969.9,677.2 1973.5,677.5 1977.1,677.8 1980.7,678.0 1984.3,678.3 1987.8,678.6 1991.4,678.9 1995.0,679.2 1998.6,679.4 2002.2,679.7 2005.8,680.0 2009.4,680.2 2013.0,680.5 2016.6,680.8 2020.2,681.0 2023.8,681.3 2027.4,681.5 2031.0,681.8 2034.6,682.0 2038.2,682.3 2041.8,682.6 2045.4,682.8 2049.0,683.1 2052.6,683.3 2056.2,683.6 2059.8,683.8 2063.4,684.0 2067.0,684.3 2070.6,684.5 2074.2,684.8 2077.8,685.0 2081.4,685.2 2085.0,685.5 2088.6,685.7 2092.2,685.9 2095.8,686.2 2099.4,686.4 2103.0,686.6 2106.6,686.8 2110.2,687.1 2113.8,687.3 2117.4,687.5 2121.0,687.7 2124.6,688.0 2128.2,688.2 2131.8,688.4 2135.4,688.6 2139.0,688.8 2142.6,689.0 2146.2,689.2 2149.8,689.4 2153.4,689.7 2157.0,689.9 2160.6,690.1 2164.2,690.3 2167.8,690.5 2171.4,690.7 2175.0,690.9 2178.6,691.1 2182.2,691.3 2185.8,691.5" stroke="#0000ff"/>
</g>
<g font-family="'Liberation Serif', 'Times New Roman', serif" fill="#000">
<text x="226.9 292.4" y="108" font-size="131">16</text>
<text x="226.9 291.5" y="542.5" font-size="131">14</text>
<text x="226.9 292.5" y="975.5" font-size="131">12</text>
<text x="226.9 293.2" y="1409.7" font-size="131">10</text>
<text x="510.5 575.1" y="1509" font-size="131">20</text>
<text x="867.6 929.1" y="1509" font-size="131">25</text>
<text x="1220.3 1287.3" y="1509" font-size="131">30</text>
<text x="1575.7 1640.4" y="1509" font-size="131">35</text>
<text x="1934.1 1999.7" y="1509" font-size="131">40</text>
<text x="1073.5" y="1721" font-size="128">c</text>
<text x="1129.4" y="1772" font-size="77.5">s</text>
<text x="1190.2 1230.0 1320.5 1356.3 1460.9" y="1721" font-size="128">(wt%)</text>
<text transform="translate(137.8 1100) rotate(-90)" x="44.5" y="0" font-size="128">d</text>
<text transform="translate(188.8 1100) rotate(-90)" x="109.2" y="0" font-size="77.5">H</text>
<text transform="translate(68.3 1100) rotate(-90)" x="110.0 143.2 180.9" y="0" font-size="77.5">app</text>
<text transform="translate(137.8 1100) rotate(-90)" x="243.2 282.0 349.0 449.1" y="0" font-size="128">(nm)</text>
</g>
</svg></body></html>
